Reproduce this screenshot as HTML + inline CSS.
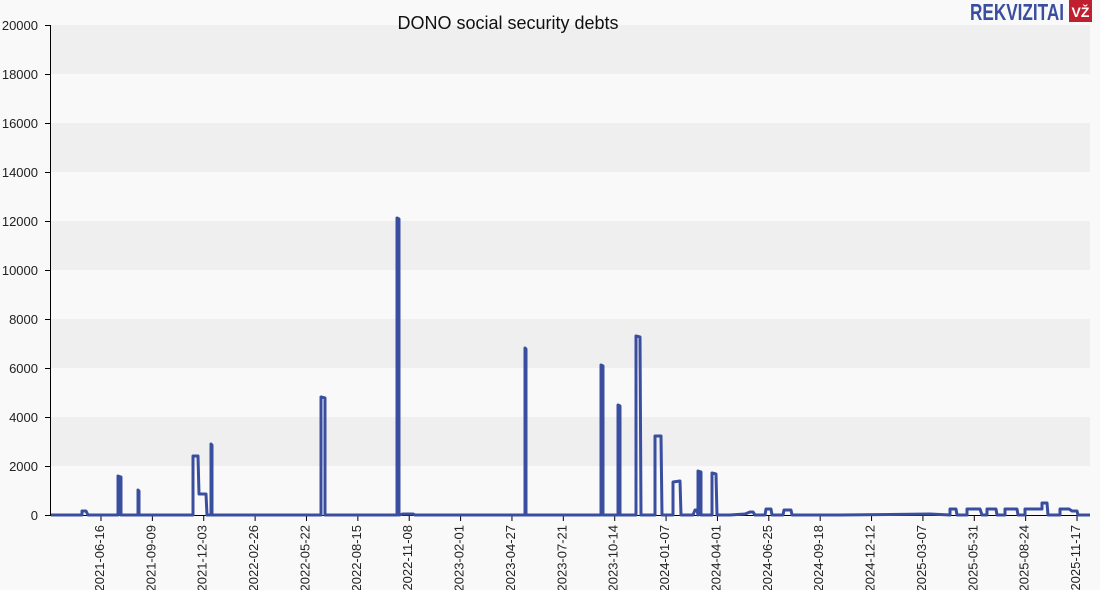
<!DOCTYPE html>
<html><head><meta charset="utf-8"><style>
body{margin:0;background:#f9f9f9;}
svg{display:block;font-family:"Liberation Sans",sans-serif;}
</style></head><body>
<svg width="1100" height="590" viewBox="0 0 1100 590">
<rect width="1100" height="590" fill="#f9f9f9"/>
<g fill="#efefef">
<rect x="51" y="25" width="1039" height="49"/>
<rect x="51" y="123" width="1039" height="49"/>
<rect x="51" y="221" width="1039" height="49"/>
<rect x="51" y="319" width="1039" height="49"/>
<rect x="51" y="417" width="1039" height="49"/>
</g>
<line x1="50.5" y1="25" x2="50.5" y2="516" stroke="#000"/>
<line x1="50" y1="515.5" x2="1090" y2="515.5" stroke="#000"/>
<g stroke="#000">
<line x1="45" y1="25.5" x2="50" y2="25.5"/><line x1="45" y1="74.5" x2="50" y2="74.5"/>
<line x1="45" y1="123.5" x2="50" y2="123.5"/><line x1="45" y1="172.5" x2="50" y2="172.5"/>
<line x1="45" y1="221.5" x2="50" y2="221.5"/><line x1="45" y1="270.5" x2="50" y2="270.5"/>
<line x1="45" y1="319.5" x2="50" y2="319.5"/><line x1="45" y1="368.5" x2="50" y2="368.5"/>
<line x1="45" y1="417.5" x2="50" y2="417.5"/><line x1="45" y1="466.5" x2="50" y2="466.5"/>
<line x1="45" y1="515.5" x2="50" y2="515.5"/>
</g>
<g font-size="13" fill="#222" text-anchor="end">
<text x="38" y="30">20000</text><text x="38" y="79">18000</text><text x="38" y="128">16000</text>
<text x="38" y="177">14000</text><text x="38" y="226">12000</text><text x="38" y="275">10000</text>
<text x="38" y="324">8000</text><text x="38" y="373">6000</text><text x="38" y="422">4000</text>
<text x="38" y="471">2000</text><text x="38" y="520">0</text>
</g>
<g id="xt" font-size="13" fill="#222" text-anchor="end"></g>
<text x="508" y="29" font-size="18" text-anchor="middle" fill="#111">DONO social security debts</text>
<text x="970" y="20" font-size="23" font-weight="bold" fill="#3a4ea0" textLength="94" lengthAdjust="spacingAndGlyphs">REKVIZITAI</text>
<rect x="1069" y="0" width="23" height="22" fill="#c0202e"/>
<text x="1080.5" y="17" font-size="14" font-weight="bold" fill="#fff" text-anchor="middle">VŽ</text>
<polyline fill="none" stroke="#3a4ea0" stroke-width="3" stroke-linejoin="round" points="
51,515 82,515 82,511 86,511 88,515 118,515 118,476 121,477 121,515 138,515 138,490 139,491 139,515
193,515 193,456 198,456 199,494 206,494 207,515 211,515 211,444 212,445 212,515
321,515 321,397 325,398 325,515 397,515 397,218 399,219 399,515 403,514 413,514 415,515
525,515 525,348 526,349 526,515 601,515 601,365 603,366 603,515 618,515 618,405 620,406 620,515
636,515 636,336 640,337 641,515 655,515 655,436 661,436 662,515 673,515 673,482 680,481 681,515
688,515 693,515 695,510 697,510 698,515 698,471 701,472 701,515 712,515 712,473 716,474 717,515
730,515 745,514 750,512 753,512 755,515 765,515 766,509 771,509 772,515 783,515 784,510 791,510 792,515
840,515 930,514 950,515 950,509 956,509 957,515 967,515 967,509 980,509 982,515 987,515 987,509 996,509 997,515
1005,515 1005,509 1017,509 1018,515 1025,515 1025,509 1042,509 1042,503 1047,503 1048,515 1060,515 1060,509 1069,509 1072,511 1077,511 1078,515 1090,515"/>
</svg>
<script>
var d=["2021-06-16","2021-09-09","2021-12-03","2022-02-26","2022-05-22","2022-08-15","2022-11-08","2023-02-01","2023-04-27","2023-07-21","2023-10-14","2024-01-07","2024-04-01","2024-06-25","2024-09-18","2024-12-12","2025-03-07","2025-05-31","2025-08-24","2025-11-17"];
var g=document.getElementById("xt"),s="";
for(var i=0;i<d.length;i++){var x=101+i*51.37;
s+='<line x1="'+x+'" y1="516" x2="'+x+'" y2="521" stroke="#000"/>';
s+='<text transform="translate('+(x+3)+',525) rotate(-90)">'+d[i]+'</text>';}
g.innerHTML=s;
</script>
</body></html>
